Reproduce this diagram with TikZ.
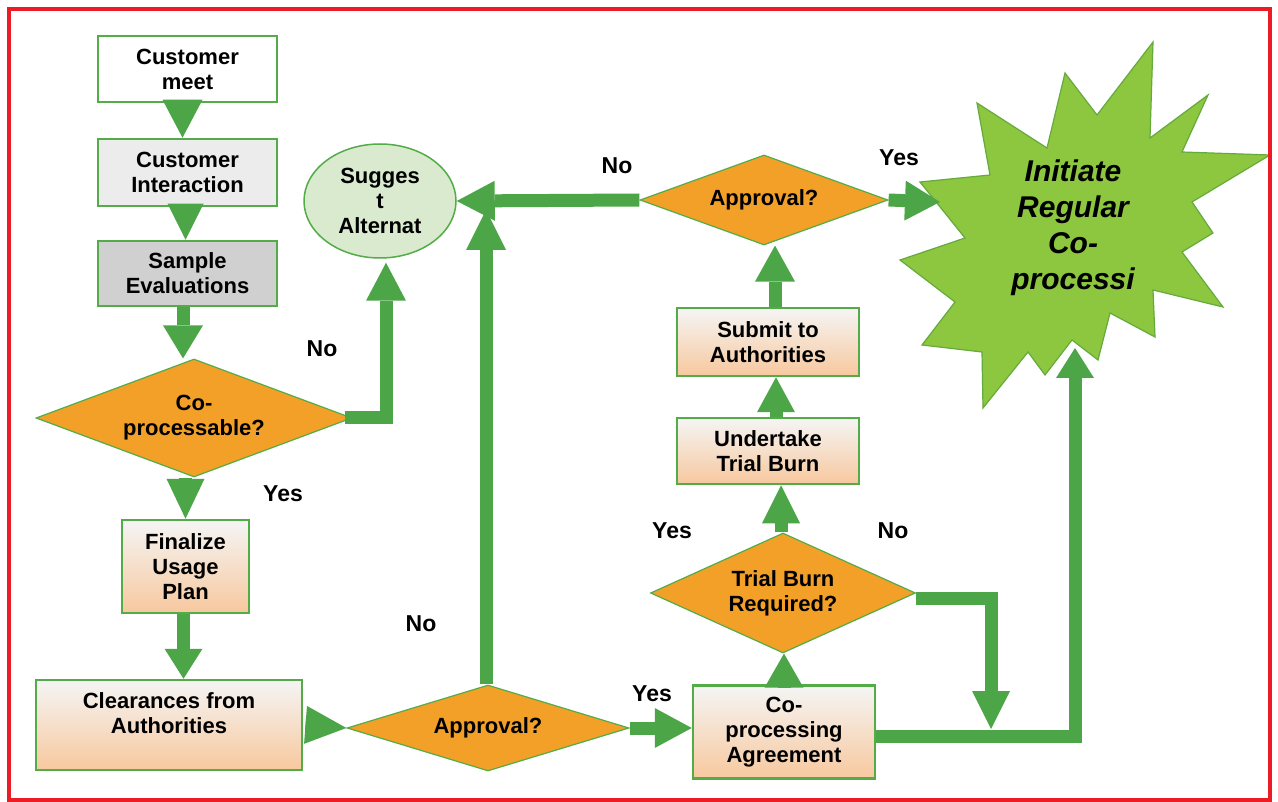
\documentclass[tikz,border=0pt]{standalone}
\usepackage{fontspec}
\setmainfont{Liberation Sans}
\usetikzlibrary{shapes.geometric,arrows.meta}
\definecolor{bgreen}{RGB}{84,172,72}
\definecolor{agreen}{RGB}{76,166,72}
\definecolor{dorange}{RGB}{242,160,40}
\definecolor{peach}{RGB}{247,200,158}
\definecolor{topgray}{RGB}{245,245,245}
\definecolor{lgray}{RGB}{236,236,236}
\definecolor{mgray}{RGB}{208,208,208}
\definecolor{starfill}{RGB}{141,198,63}
\definecolor{stardraw}{RGB}{100,170,60}
\definecolor{ellfill}{RGB}{217,234,206}
\definecolor{redb}{RGB}{237,28,36}
\tikzset{
  txt/.style={font=\fontsize{22}{25}\selectfont\bfseries, align=center, text=black},
  lbl/.style={font=\fontsize{23}{26}\selectfont\bfseries, text=black},
  box/.style={draw=bgreen, line width=2.5pt, inner sep=0pt, txt},
  gbox/.style={box, top color=topgray, bottom color=peach},
  dia/.style={diamond, draw=bgreen, line width=1.2pt, fill=dorange, inner sep=0pt},
  fat/.style={draw=agreen, line width=13pt, -{Triangle[width=40pt,length=38pt,line width=0pt]}},
  starsh/.style={fill=starfill, draw=stardraw, line width=1.2pt, line join=miter},
  startxt/.style={font=\fontsize{30}{36}\selectfont\bfseries\itshape, align=center, text=black},
}
\begin{document}
\begin{tikzpicture}[x=1pt,y=-1pt]
\fill[white] (0,0) rectangle (1278,802);
\useasboundingbox (0,0) rectangle (1278,802);

% starburst
\draw[starsh] (920,182) -- (990,175) -- (977,103) -- (1047,148) -- (1065,73) -- (1097,115)
  -- (1153,42) -- (1150,138) -- (1208,95) -- (1182,152) -- (1270,155) -- (1192,202)
  -- (1213,233) -- (1182,252) -- (1223,307) -- (1153,290) -- (1155,337) -- (1110,313)
  -- (1098,360) -- (1072,340) -- (1045,375) -- (1028,352) -- (983,408) -- (982,352)
  -- (922,345) -- (955,302) -- (900,260) -- (965,238) -- cycle;
\node[startxt] (st) at (1073,228) {Initiate\\Regular\\Co-\\processi};
\coordinate (starW) at (940,202);
\coordinate (starS) at (1075,348);

% boxes
\node[box, fill=white, minimum width=179pt, minimum height=66pt] (cm) at (187.5,69) {Customer\\meet};
\node[box, fill=lgray, minimum width=179pt, minimum height=67pt] (ci) at (187.5,172.5) {Customer\\Interaction};
\node[box, fill=mgray, minimum width=179pt, minimum height=65pt] (se) at (187.5,273.5) {Sample\\Evaluations};
\node[dia, minimum width=316pt, minimum height=118pt, label={[txt]center:Co-\\processable?}] (cp) at (194,418) {};
\node[gbox, minimum width=127pt, minimum height=93pt] (fu) at (185.5,566.5) {Finalize\\Usage\\Plan};
\node[gbox, minimum width=266pt, minimum height=90pt, label={[txt,yshift=12pt]center:Clearances from\\Authorities}] (cl) at (169,725) {};
\node[dia, minimum width=282pt, minimum height=86pt, label={[txt]center:Approval?}] (ap1) at (488,728) {};
\node[ellipse, draw=bgreen, line width=1.5pt, fill=ellfill, minimum width=152pt, minimum height=114pt, inner sep=0pt, txt] (sg) at (380,201) {Sugges\\t\\Alternat};
\node[dia, minimum width=248pt, minimum height=90pt, label={[txt]center:Approval?}] (ap2) at (764,200) {};
\node[gbox, minimum width=182pt, minimum height=68pt] (sub) at (768,342) {Submit to\\Authorities};
\node[gbox, minimum width=182pt, minimum height=66pt] (ut) at (768,451) {Undertake\\Trial Burn};
\node[dia, minimum width=265pt, minimum height=120pt, label={[txt]center:Trial Burn\\Required?}] (tb) at (783,593) {};
\node[gbox, minimum width=182pt, minimum height=93pt] (ca) at (784,732) {Co-\\processing\\Agreement};

\coordinate (j1) at (486,210);
\coordinate (j2) at (991,729);

% connectors
\draw[fat] ([xshift=-5pt]cm.south) -- ([xshift=-5pt]ci.north);
\draw[fat, -{Triangle[width=36pt,length=36pt,line width=0pt]}] ([xshift=-2pt]ci.south) -- ([xshift=-2pt]se.north);
\draw[fat, -{Triangle[width=40pt,length=33pt,line width=0pt]}] ([xshift=-4.5pt]se.south) -- ([xshift=-4.5pt]se.south |- cp.north);
\draw[fat, -{Triangle[width=38pt,length=40pt,line width=0pt]}] (fu.north |- cp.south) -- (fu.north);
\draw[fat, -{Triangle[width=38pt,length=30pt,line width=0pt]}] ([xshift=-2pt]fu.south) -- ([xshift=-2pt]fu.south |- cl.north);
\draw[fat, -{Triangle[width=40pt,length=38pt,line width=0pt]}] ([xshift=-8pt]cp.east) -| ([xshift=6pt,yshift=-4pt]sg.south);
\draw[fat, -{Triangle[width=38pt,length=41pt,line width=0pt]}] ([xshift=4pt]cl.east) -- (ap1.west);
\draw[fat, -{Triangle[width=40pt,length=40pt,line width=0pt]}] ([xshift=-2pt]ap1.north) -- (j1);
\draw[fat, -{Triangle[width=40pt,length=38pt,line width=0pt]}] (ap2.west) -- (sg.east);
\draw[fat, -{Triangle[width=40pt,length=35pt,line width=0pt]}] (ap2.east) -- (starW);
\draw[fat, -{Triangle[width=40pt,length=36pt,line width=0pt]}] ([xshift=7pt]sub.north) -- ([xshift=7pt]sub.north |- ap2.south);
\draw[fat, -{Triangle[width=38pt,length=35pt,line width=0pt]}] ([xshift=8pt]ut.north) -- ([xshift=8pt]ut.north |- sub.south);
\draw[fat, -{Triangle[width=38pt,length=38pt,line width=0pt]}] ([xshift=-2pt]tb.north) -- ([xshift=-2pt]tb.north |- ut.south);
\draw[fat, -{Triangle[width=39pt,length=34pt,line width=0pt]}] ([yshift=-1pt]ca.north) -- (ca.north |- tb.south);
\draw[fat, -{Triangle[width=40pt,length=37pt,line width=0pt]}] (ap1.east) -- (ap1.east -| ca.west);
\draw[fat, -{Triangle[width=38pt,length=38pt,line width=0pt]}] ([yshift=-5pt]tb.east) -| (j2);
\draw[fat, -{Triangle[width=38pt,length=30pt,line width=0pt]}] ([yshift=-4pt]ca.east) -| (starS);

% branch labels
\node[lbl] (n1) at (322,349) {No};
\node[lbl] (y1) at (283,494) {Yes};
\node[lbl] (n2) at (421,624) {No};
\node[lbl] (n3) at (617,166) {No};
\node[lbl] (y2) at (899,158) {Yes};
\node[lbl] (y3) at (672,531) {Yes};
\node[lbl] (n4) at (893,531) {No};
\node[lbl] (y4) at (652,694) {Yes};

% red frame
\draw[redb, line width=4pt] (9,9) rectangle (1270,800);
\end{tikzpicture}
\end{document}
